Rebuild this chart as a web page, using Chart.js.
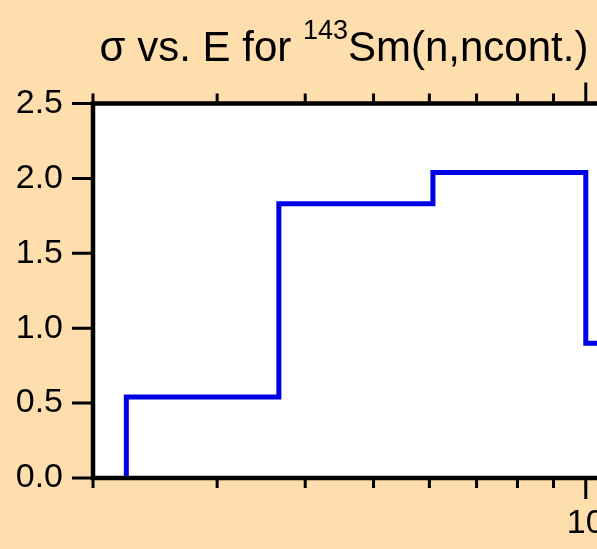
<!DOCTYPE html>
<html lang="en">
<head>
<meta charset="UTF-8">
<title>σ vs. E for 143Sm(n,ncont.)</title>
<script src="https://cdn.jsdelivr.net/npm/chart.js"></script>
<style>
  html, body { margin: 0; padding: 0; overflow: hidden; background: #ffdead; }
  #wrap { width: 597px; height: 549px; overflow: hidden; }
</style>
</head>
<body>
<div id="wrap"><canvas id="xsChart" width="810" height="549"></canvas></div>
<script>
// lower bin edges (MeV) and cross section (b)
var energyEdges = [2.23, 3.67, 6.07, 10.0, 20.0];
var sigma = [0.54, 1.83, 2.04, 0.90, 0.90];
var yTicks = [0, 0.5, 1.0, 1.5, 2.0, 2.5];
var xLabels = [10];

var FONT = '"Liberation Sans", Arial, Helvetica, sans-serif';

// histogram starts from zero at the first edge
var points = [{ x: energyEdges[0], y: 0 }];
energyEdges.forEach(function (e, i) {
    points.push({ x: e, y: sigma[i] });
});

function isDecade(v) {
    var l = Math.log10(v);
    return Math.abs(l - Math.round(l)) < 1e-9;
}

// white plot area, thick frame and outward tick marks
var framePlugin = {
    id: 'frame',
    beforeDatasetsDraw: function (chart) {
        var a = chart.chartArea, ctx = chart.ctx;
        ctx.save();
        ctx.fillStyle = '#ffffff';
        ctx.fillRect(a.left, a.top, a.right - a.left, a.bottom - a.top);
        ctx.restore();
    },
    afterDatasetsDraw: function (chart) {
        var a = chart.chartArea, ctx = chart.ctx;
        var xs = chart.scales.x, ys = chart.scales.y;
        ctx.save();
        ctx.strokeStyle = '#000';
        ctx.lineWidth = 4.5;
        ctx.strokeRect(a.left, a.top, a.right - a.left, a.bottom - a.top);

        ctx.lineWidth = 3;
        ctx.beginPath();
        xs.ticks.forEach(function (t) {
            var px = xs.getPixelForValue(t.value);
            var len = isDecade(t.value) ? 21 : 10;
            ctx.moveTo(px, a.bottom);
            ctx.lineTo(px, a.bottom + len);
            ctx.moveTo(px, a.top);
            ctx.lineTo(px, a.top - len);
        });
        ys.ticks.forEach(function (t) {
            var py = ys.getPixelForValue(t.value);
            ctx.moveTo(a.left, py);
            ctx.lineTo(a.left - 21, py);
        });
        ctx.stroke();
        ctx.restore();
    }
};

// title with superscript mass number
var titlePlugin = {
    id: 'supTitle',
    afterDraw: function (chart) {
        var ctx = chart.ctx;
        var head = '\u03c3 vs. E for ', sup = '143', tail = 'Sm(n,ncont.)';
        ctx.save();
        ctx.fillStyle = '#000';
        ctx.textBaseline = 'alphabetic';
        ctx.textAlign = 'left';
        ctx.font = '42px ' + FONT;
        var w1 = ctx.measureText(head).width;
        var w3 = ctx.measureText(tail).width;
        ctx.font = '27px ' + FONT;
        var w2 = ctx.measureText(sup).width;
        var x = 344 - (w1 + w2 + w3) / 2;
        ctx.font = '42px ' + FONT;
        ctx.fillText(head, x, 61);
        ctx.font = '27px ' + FONT;
        ctx.fillText(sup, x + w1, 39);
        ctx.font = '42px ' + FONT;
        ctx.fillText(tail, x + w1 + w2, 61);
        ctx.restore();
    }
};

new Chart(document.getElementById('xsChart'), {
    type: 'line',
    data: {
        datasets: [{
            data: points,
            stepped: 'before',
            borderColor: '#0000e6',
            borderWidth: 5,
            pointRadius: 0,
            fill: false
        }]
    },
    options: {
        responsive: false,
        animation: false,
        layout: { padding: { top: 103.5, right: 12, left: 0, bottom: 0 } },
        plugins: {
            legend: { display: false },
            tooltip: { enabled: false },
            title: { display: false }
        },
        scales: {
            x: {
                type: 'logarithmic',
                min: 2,
                max: 20,
                grid: { display: false, drawTicks: false },
                border: { display: false },
                ticks: {
                    autoSkip: false,
                    maxRotation: 0,
                    padding: 25,
                    color: '#000',
                    font: { family: FONT, size: 34 },
                    callback: function (v) {
                        return xLabels.some(function (l) { return Math.abs(l - v) < 1e-9; }) ? String(v) : '';
                    }
                },
                afterFit: function (s) {
                    s.height = 71;
                    s.paddingLeft = 0;
                    s.paddingRight = 0;
                }
            },
            y: {
                min: 0,
                max: 2.5,
                grid: { display: false, drawTicks: false },
                border: { display: false },
                afterBuildTicks: function (s) {
                    s.ticks = yTicks.map(function (v) { return { value: v }; });
                },
                ticks: {
                    padding: 30,
                    color: '#000',
                    font: { family: FONT, size: 34 },
                    callback: function (v) { return Number(v).toFixed(1); }
                },
                afterFit: function (s) {
                    s.width = 93;
                    s.paddingTop = 0;
                    s.paddingBottom = 0;
                }
            }
        }
    },
    plugins: [framePlugin, titlePlugin]
});
</script>
</body>
</html>
